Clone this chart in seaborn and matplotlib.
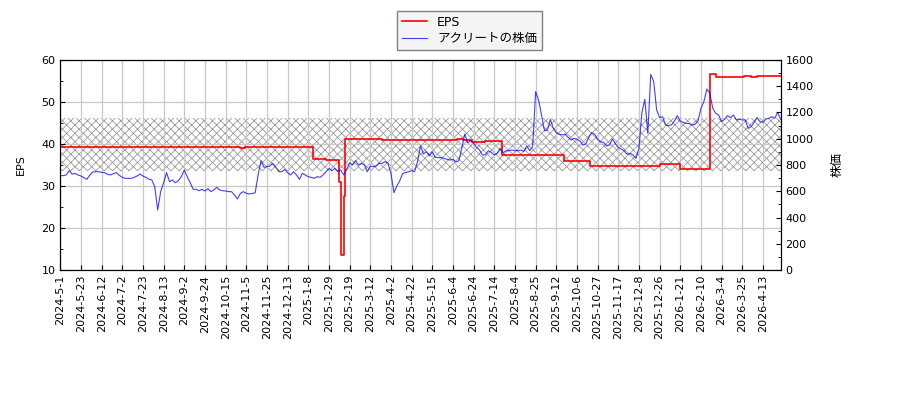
import numpy as np
import pandas as pd
import matplotlib
matplotlib.use('Agg')
import matplotlib.pyplot as plt
from matplotlib.ticker import MultipleLocator
import seaborn as sns

plt.rcParams['font.family'] = ['DejaVu Sans', 'Noto Sans CJK JP']
plt.rcParams['font.size'] = 8
plt.rcParams['hatch.color'] = '#9a9a9a'
plt.rcParams['hatch.linewidth'] = 0.6

# 営業日インデックス上の目盛り（14営業日ごと）
tick_step = 14
tick_labels = ['2024-5-1', '2024-5-23', '2024-6-12', '2024-7-2', '2024-7-23', '2024-8-13',
               '2024-9-2', '2024-9-24', '2024-10-15', '2024-11-5', '2024-11-25', '2024-12-13',
               '2025-1-8', '2025-1-29', '2025-2-19', '2025-3-12', '2025-4-2', '2025-4-22',
               '2025-5-15', '2025-6-4', '2025-6-24', '2025-7-14', '2025-8-4', '2025-8-25',
               '2025-9-12', '2025-10-6', '2025-10-27', '2025-11-17', '2025-12-8', '2025-12-26',
               '2026-1-21', '2026-2-10', '2026-3-4', '2026-3-25', '2026-4-13']

# 株価（2営業日ごと）
price_step = 2
price = [719, 719, 724, 757, 731, 736, 724, 716, 703, 691, 724, 747, 749, 749, 744, 742, 729, 724,
         734, 742, 721, 706, 698, 698, 698, 706, 716, 731, 716, 706, 691, 686, 635, 457, 597, 665,
         742, 673, 686, 665, 681, 711, 762, 711, 665, 615, 615, 604, 615, 602, 620, 597, 610, 630,
         610, 604, 602, 597, 597, 571, 541, 584, 597, 584, 579,
         583, 588, 724, 833, 783, 787, 792, 813, 782, 749, 749, 767, 742, 724, 749, 724, 691, 737,
         724, 711, 706, 698, 711, 706, 724, 749, 774, 757, 774, 749, 762, 724, 767, 818, 800, 833,
         800, 813, 800, 749, 792, 787, 792, 813, 813, 825, 813, 737, 589, 640, 681, 737, 742, 749,
         757, 749, 825, 945, 884, 902, 869,
         901, 858, 856, 856, 851, 843, 838, 843, 823, 833, 927, 1036, 970, 985, 965, 935, 914, 876,
         879, 909, 896, 876, 889, 927, 894, 909, 909, 914, 909, 909, 914, 904, 945, 909, 940, 1359,
         1295, 1181, 1061, 1066, 1148, 1079, 1046, 1034, 1029, 1036, 1011, 990, 1003, 995, 983, 952,
         960, 1011, 1046, 1034, 995, 978, 973, 945, 952,
         998, 962, 932, 922, 907, 881, 889, 876, 851, 927, 1200, 1300, 1040, 1491, 1435, 1219, 1161,
         1168, 1105, 1100, 1105, 1135, 1176, 1135, 1125, 1117, 1115, 1105, 1110, 1135, 1232, 1283,
         1379, 1346, 1232, 1194, 1181, 1130, 1148, 1176, 1161, 1181, 1143, 1150, 1143, 1143, 1079,
         1092, 1125, 1161, 1130, 1125, 1150, 1156, 1168, 1156, 1200, 1150]

# EPS（変化した営業日インデックスと値）
eps_start = [0, 122, 125, 171, 180, 189, 190, 192, 193, 199, 218, 269, 273, 279, 288, 299,
             341, 350, 359, 373, 391, 398, 406, 420, 440, 444, 463, 468, 472]
eps_value = [39.3, 39.0, 39.35, 36.4, 36.2, 31.0, 13.6, 27.5, 41.1, 41.3, 41.0, 41.2, 41.0, 40.4,
             40.6, 37.3, 36.0, 35.9, 34.8, 34.85, 34.75, 34.85, 35.15, 34.0, 56.6, 56.0, 56.1,
             55.9, 56.1]

band_low, band_high = 33.6, 46.3

last_day = (len(price) - 1) * price_step
price_df = pd.DataFrame({'day': np.arange(len(price)) * price_step, 'price': price})
eps_df = pd.DataFrame({'day': eps_start + [last_day], 'eps': eps_value + [eps_value[-1]]})

fig = plt.figure(figsize=(9, 4), dpi=100)
ax = fig.add_axes([0.067, 0.325, 0.8004, 0.525])
ax2 = ax.twinx()

ax.axhspan(band_low, band_high, facecolor='none', edgecolor='#9a9a9a', hatch='xxxx', linewidth=0, zorder=1)
sns.lineplot(data=eps_df, x='day', y='eps', ax=ax, color='red', linewidth=1.2,
             drawstyle='steps-post', estimator=None, sort=False, zorder=3)
sns.lineplot(data=price_df, x='day', y='price', ax=ax2, color='blue', linewidth=0.8,
             alpha=0.75, estimator=None)

ax.set_xlim(0, last_day)
ax.set_ylim(10, 60)
ax2.set_ylim(0, 1600)
ax.set_xticks(np.arange(len(tick_labels)) * tick_step)
ax.set_xticklabels(tick_labels, rotation=90)
ax.yaxis.set_major_locator(MultipleLocator(10))
ax.yaxis.set_minor_locator(MultipleLocator(5))
ax2.yaxis.set_major_locator(MultipleLocator(200))
ax2.yaxis.set_minor_locator(MultipleLocator(100))
ax.tick_params(which='both', direction='in')
ax2.tick_params(which='both', direction='in')
ax.grid(True, color='#c8c8c8', linewidth=0.9)
ax.set_xlabel('')
ax.set_ylabel('EPS', labelpad=11)
ax2.set_ylabel('株価', labelpad=12, fontsize=9)

handles = [ax.lines[0], ax2.lines[0]]
fig.legend(handles, ['EPS', 'アクリートの株価'], loc='upper left',
           bbox_to_anchor=(397 / 900, 1 - 10.7 / 400), borderaxespad=0, fontsize=9,
           labelspacing=0.3, fancybox=False, edgecolor='#808080', facecolor='#f4f4f4',
           framealpha=1)

fig.savefig('out.png', dpi=100)
